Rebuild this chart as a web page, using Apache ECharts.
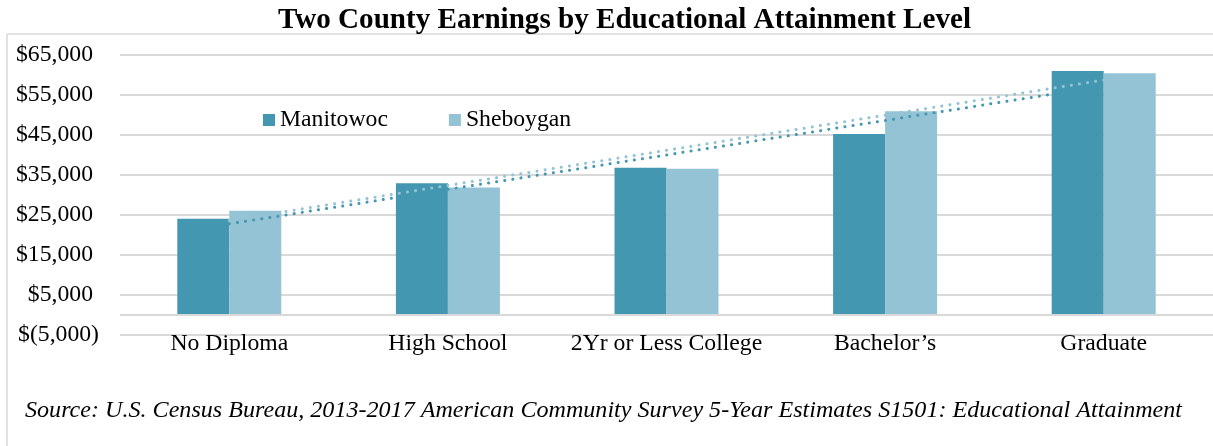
<!DOCTYPE html>
<html>
<head>
<meta charset="utf-8">
<script src="https://cdn.jsdelivr.net/npm/echarts@6/dist/echarts.min.js"></script>
<style>
html,body{margin:0;padding:0;background:#fff;overflow:hidden;}
#chart{width:1213px;height:446px;}
</style>
</head>
<body>
<div id="chart"></div>
<script>
const categories = ['No Diploma', 'High School', '2Yr or Less College', 'Bachelor\u2019s', 'Graduate'];
const manitowoc = [24000, 32900, 36750, 45200, 61000];
const sheboygan = [26000, 31800, 36500, 50900, 60450];
const yTicks = { min: -5000, max: 65000, step: 10000 };
const seriesNames = ['Manitowoc', 'Sheboygan'];
const titleText = 'Two County Earnings by Educational Attainment Level';
const sourceText = 'Source: U.S. Census Bureau, 2013-2017 American Community Survey 5-Year Estimates S1501: Educational Attainment';

const DARK = '#4397B0';
const LIGHT = '#93C3D5';
const GRID = '#d9d9d9';
const FONT = '"Liberation Serif", "Times New Roman", serif';
const FS = 23.7;

// Linear least-squares trendline (as Excel's linear trendline) over category index
function linearTrend(vals) {
  const n = vals.length;
  const mx = (n - 1) / 2;
  const my = vals.reduce((a, b) => a + b, 0) / n;
  let sxy = 0, sxx = 0;
  vals.forEach((v, i) => { sxy += (i - mx) * (v - my); sxx += (i - mx) * (i - mx); });
  const slope = sxy / sxx;
  return vals.map((_, i) => my + slope * (i - mx));
}

function fmtMoney(v) {
  const s = Math.abs(v).toLocaleString('en-US');
  return v < 0 ? '{n|$(' + s + ')}' : '{p|$' + s + '}';
}

const chart = echarts.init(document.getElementById('chart'), null, { renderer: 'canvas' });
const dotted = { type: [0.1, 8.1], cap: 'round', width: 3 };

chart.setOption({
  animation: false,
  backgroundColor: '#fff',
  textStyle: { fontFamily: FONT },
  graphic: [
    { type: 'line', shape: { x1: 7, y1: 34, x2: 1213, y2: 34 }, style: { stroke: GRID, lineWidth: 1.5 }, z: -10, silent: true },
    { type: 'line', shape: { x1: 7, y1: 34, x2: 7, y2: 446 }, style: { stroke: GRID, lineWidth: 1.5 }, z: -10, silent: true },
    { type: 'text', x: 624.5, y: 20, style: { text: titleText, font: 'bold 29.1px ' + FONT, fill: '#000', align: 'center', verticalAlign: 'middle' } },
    { type: 'text', x: 25, y: 410.5, style: { text: sourceText, font: 'italic 24.1px ' + FONT, fill: '#000', align: 'left', verticalAlign: 'middle' } }
  ],
  legend: {
    data: seriesNames,
    left: 258,
    top: 103,
    icon: 'rect',
    itemWidth: 12,
    itemHeight: 12,
    itemGap: 61,
    textStyle: { fontFamily: FONT, fontSize: FS, color: '#000' }
  },
  grid: { show: false, left: 120, right: -3, top: 55, bottom: 111.5, borderWidth: 0 },
  xAxis: {
    type: 'category',
    data: categories,
    axisLine: { show: false },
    axisTick: { show: false },
    splitLine: { show: false },
    axisLabel: { fontFamily: FONT, fontSize: FS, color: '#000', margin: -3, interval: 0 }
  },
  yAxis: {
    type: 'value',
    min: yTicks.min,
    max: yTicks.max,
    interval: yTicks.step,
    axisLine: { show: false },
    axisTick: { show: false },
    splitLine: { show: true, lineStyle: { color: GRID, width: 2 } },
    axisLabel: {
      margin: 21,
      formatter: fmtMoney,
      rich: {
        p: { fontFamily: FONT, fontSize: FS, color: '#000', padding: [0, 6, 0, 0] },
        n: { fontFamily: FONT, fontSize: FS, color: '#000' }
      }
    }
  },
  series: [
    {
      name: seriesNames[0], type: 'bar', data: manitowoc, barWidth: 52, barGap: '0%',
      itemStyle: { color: DARK },
      markLine: { silent: true, symbol: 'none', label: { show: false }, lineStyle: { color: GRID, width: 2, type: 'solid' }, data: [{ yAxis: 0 }] }
    },
    {
      name: seriesNames[1], type: 'bar', data: sheboygan, barWidth: 52,
      itemStyle: { color: LIGHT }
    },
    {
      name: 'Manitowoc trend', type: 'line', data: linearTrend(manitowoc), symbol: 'none', z: 5,
      lineStyle: Object.assign({ color: DARK }, dotted)
    },
    {
      name: 'Sheboygan trend', type: 'line', data: linearTrend(sheboygan), symbol: 'none', z: 5,
      lineStyle: Object.assign({ color: LIGHT }, dotted)
    }
  ]
});
</script>
</body>
</html>
